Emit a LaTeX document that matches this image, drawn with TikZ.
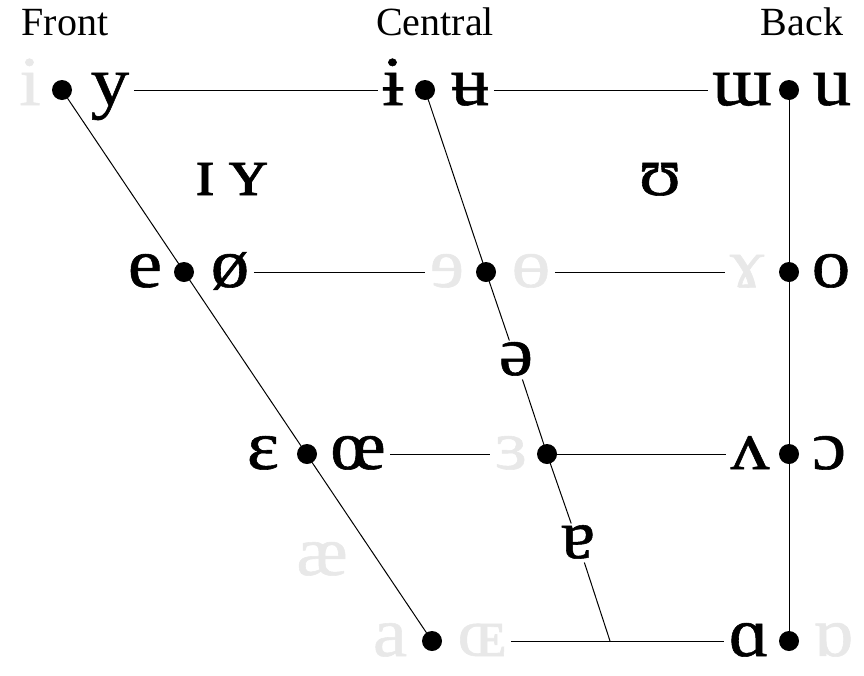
\documentclass[tikz,border=0pt]{standalone}
\usepackage{fontspec}
\setmainfont{Liberation Serif}
\newfontfamily\ipafont{Liberation Serif}[FakeStretch=1.1, FakeBold=0.8]
\begin{document}
\begin{tikzpicture}[x=1pt, y=-1pt, line width=1pt,
  vdot/.style={circle, fill=black, inner sep=0pt, minimum size=20pt},
  vowel/.style={font=\ipafont\fontsize{70}{72}\selectfont, text height=30pt, text depth=0pt, inner sep=4pt},
  faint/.style={vowel, text=black!9},
  head/.style={font=\fontsize{40}{42}\selectfont, inner sep=0pt, anchor=base}]
  \useasboundingbox (0,0) rectangle (864,675);

  % 1. dot positions of the trapezium
  \coordinate (cF)  at (62,90);
  \coordinate (cC)  at (425,90);
  \coordinate (cB)  at (789,90);
  \coordinate (cmF) at (184,272);
  \coordinate (cmC) at (486,272);
  \coordinate (cmB) at (789,272);
  \coordinate (omF) at (307,454);
  \coordinate (omC) at (547,454);
  \coordinate (omB) at (789,454);
  \coordinate (oF)  at (432,641);
  \coordinate (oC)  at (610,641);
  \coordinate (oB)  at (789,641);

  % 2. column heads
  \node[head] (front)   at (65,35)  {Front};
  \node[head] (central) at (435,35) {Central};
  \node[head] (back)    at (802,35) {Back};

  % 3. vowel symbols
  \node[faint] (i)     at (30,90)   {i};
  \node[vowel] (y)     at (110,90)  {y};
  \node[vowel] (ibar)  at (393,90)  {ɨ};
  \node[vowel] (ubar)  at (470,90)  {ʉ};
  \node[vowel] (mturn) at (742,90)  {ɯ};
  \node[vowel] (u)     at (832,90)  {u};

  \node[vowel] (smallI) at (205,180) {ɪ};
  \node[vowel] (smallY) at (248,180) {ʏ};
  \node[vowel] (upsil)  at (660,180) {ʊ};

  \node[vowel] (e)      at (145,272) {e};
  \node[vowel] (oslash) at (230,272) {ø};
  \node[faint] (reve)   at (447,272) {ɘ};
  \node[faint] (obar)   at (531,272) {ɵ};
  \node[faint] (ramsh)  at (747,272) {ɤ};
  \node[vowel] (o)      at (831,272) {o};

  \node[vowel] (schwa)  at (516,360) {ə};

  \node[vowel] (eps)    at (263,454) {ɛ};
  \node[vowel] (oe)     at (358,454) {œ};
  \node[faint] (reveps) at (511,454) {ɜ};
  \node[vowel] (vturn)  at (750,454) {ʌ};
  \node[vowel] (oopen)  at (829,454) {ɔ};

  \node[vowel] (aturn)  at (578,543) {ɐ};
  \node[faint] (ash)    at (322,560) {æ};

  \node[faint] (a)      at (390,641) {a};
  \node[faint] (OE)     at (482,641) {ɶ};
  \node[vowel] (alpha)  at (749,641) {ɑ};
  \node[faint] (alphat) at (833,641) {ɒ};

  % 4. frame lines
  \draw (cF) -- (oF);
  \draw (cB) -- (oB);
  \draw (cC) -- (cmC) -- (schwa);
  \draw (schwa) -- (omC) -- (aturn);
  \draw (aturn) -- (oC);

  \draw (y) -- (ibar);
  \draw (ubar) -- (mturn);
  \draw (oslash) -- (reve);
  \draw (obar) -- (ramsh);
  \draw (oe) -- (reveps);
  \draw (omC) -- (vturn);
  \draw (OE) -- (alpha);

  % 5. dots on top
  \foreach \p in {cF,cC,cB,cmF,cmC,cmB,omF,omC,omB,oF,oB}
    \node[vdot] at (\p) {};
\end{tikzpicture}
\end{document}
